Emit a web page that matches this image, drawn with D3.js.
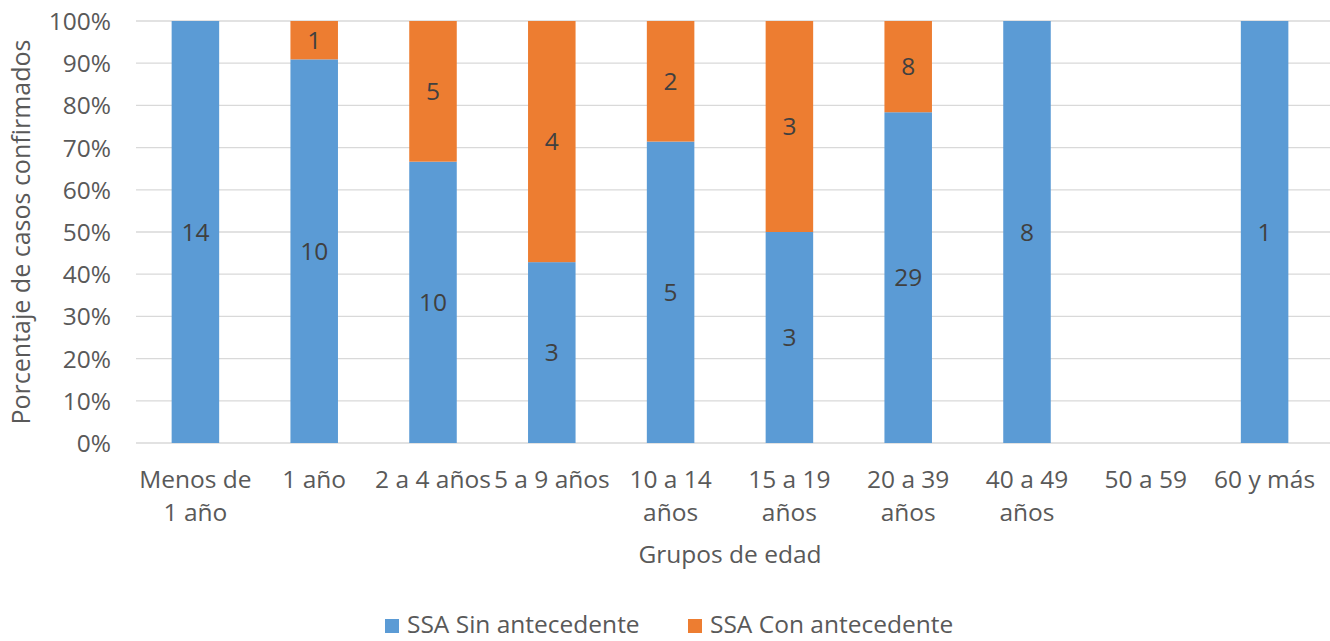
<!DOCTYPE html>
<html>
<head>
<meta charset="utf-8">
<script src="https://cdn.jsdelivr.net/npm/d3@7"></script>
<style>
  body { margin: 0; background: #fff; }
  svg text { font-family: "Open Sans", sans-serif; }
</style>
</head>
<body>
<div id="chart"></div>
<script>
// age groups (line breaks as in the original)
const categories = [
  ['Menos de', '1 año'], ['1 año'], ['2 a 4 años'], ['5 a 9 años'],
  ['10 a 14', 'años'], ['15 a 19', 'años'], ['20 a 39', 'años'],
  ['40 a 49', 'años'], ['50 a 59'], ['60 y más']
];
const sinAntecedente = [14, 10, 10, 3, 5, 3, 29, 8, 0, 1];
const conAntecedente = [0, 1, 5, 4, 2, 3, 8, 0, 0, 0];
const seriesNames = ['SSA Sin antecedente', 'SSA Con antecedente'];
const yTicks = [0, 0.1, 0.2, 0.3, 0.4, 0.5, 0.6, 0.7, 0.8, 0.9, 1];

const width = 1330, height = 641;
const margin = { top: 21, right: 6, bottom: 198, left: 136 };
const colors = ['#5B9BD5', '#ED7D31'];
const fs = 24.5;

const svg = d3.select('#chart').append('svg')
  .attr('width', width).attr('height', height);

const rows = categories.map((c, i) => {
  const total = sinAntecedente[i] + conAntecedente[i];
  return { key: i, lines: c, sin: sinAntecedente[i], con: conAntecedente[i], total };
});

const x = d3.scaleBand()
  .domain(rows.map(d => d.key))
  .range([margin.left, width - margin.right])
  .paddingInner(0.6).paddingOuter(0.3);

const y = d3.scaleLinear().domain([0, 1]).range([height - margin.bottom, margin.top]);

// gridlines
svg.append('g')
  .selectAll('line')
  .data(yTicks)
  .join('line')
  .attr('x1', margin.left).attr('x2', width)
  .attr('y1', d => y(d)).attr('y2', d => y(d))
  .attr('stroke', '#d9d9d9').attr('stroke-width', 1.3);

// y axis labels
const yAxis = svg.append('g')
  .attr('transform', `translate(${margin.left - 25},0)`)
  .call(d3.axisLeft(y).tickValues(yTicks).tickFormat(d3.format('.0%')).tickSize(0));
yAxis.select('.domain').remove();
yAxis.selectAll('text')
  .attr('fill', '#595959').attr('font-size', fs).attr('dy', '0.35em').attr('x', 0);

// stacked bars
const stack = d3.stack().keys(['sin', 'con'])
  .value((d, k) => d.total ? d[k] / d.total : 0);
const stacked = stack(rows);

const layer = svg.append('g')
  .selectAll('g')
  .data(stacked)
  .join('g')
  .attr('fill', (d, i) => colors[i]);

layer.selectAll('rect')
  .data(d => d.map(s => ({ s, key: d.key })).filter(d => d.s.data[d.key] > 0))
  .join('rect')
  .attr('x', d => x(d.s.data.key))
  .attr('width', x.bandwidth())
  .attr('y', d => y(d.s[1]))
  .attr('height', d => y(d.s[0]) - y(d.s[1]));

// data labels
layer.selectAll('text')
  .data(d => d.map(s => ({ s, key: d.key })).filter(d => d.s.data[d.key] > 0))
  .join('text')
  .attr('x', d => x(d.s.data.key) + x.bandwidth() / 2)
  .attr('y', d => y((d.s[0] + d.s[1]) / 2))
  .attr('dy', '0.35em')
  .attr('text-anchor', 'middle')
  .attr('fill', '#404040')
  .attr('font-size', fs)
  .text(d => d.s.data[d.key]);

// x labels
const xl = svg.append('g')
  .selectAll('text')
  .data(rows)
  .join('text')
  .attr('x', d => x(d.key) + x.bandwidth() / 2)
  .attr('y', 488)
  .attr('text-anchor', 'middle')
  .attr('fill', '#595959')
  .attr('font-size', fs);
xl.selectAll('tspan')
  .data(d => d.lines)
  .join('tspan')
  .attr('x', function() { return this.parentNode.getAttribute('x'); })
  .attr('dy', (d, i) => i === 0 ? 0 : 33)
  .text(d => d);

// axis titles
svg.append('text')
  .attr('x', (margin.left + width - margin.right) / 2)
  .attr('y', 563)
  .attr('text-anchor', 'middle')
  .attr('fill', '#595959')
  .attr('font-size', fs)
  .text('Grupos de edad');

svg.append('text')
  .attr('transform', `translate(30,${(y(0) + y(1)) / 2}) rotate(-90)`)
  .attr('text-anchor', 'middle')
  .attr('fill', '#595959')
  .attr('font-size', 25)
  .text('Porcentaje de casos confirmados');

// legend
const legendX = [385, 688];
const lg = svg.append('g')
  .selectAll('g')
  .data(seriesNames)
  .join('g')
  .attr('transform', (d, i) => `translate(${legendX[i]},617)`);
lg.append('rect').attr('width', 14).attr('height', 14).attr('y', 2)
  .attr('fill', (d, i) => colors[i]);
lg.append('text').attr('x', 22).attr('y', 7).attr('dy', '0.35em')
  .attr('fill', '#595959').attr('font-size', fs).text(d => d);
</script>
</body>
</html>
